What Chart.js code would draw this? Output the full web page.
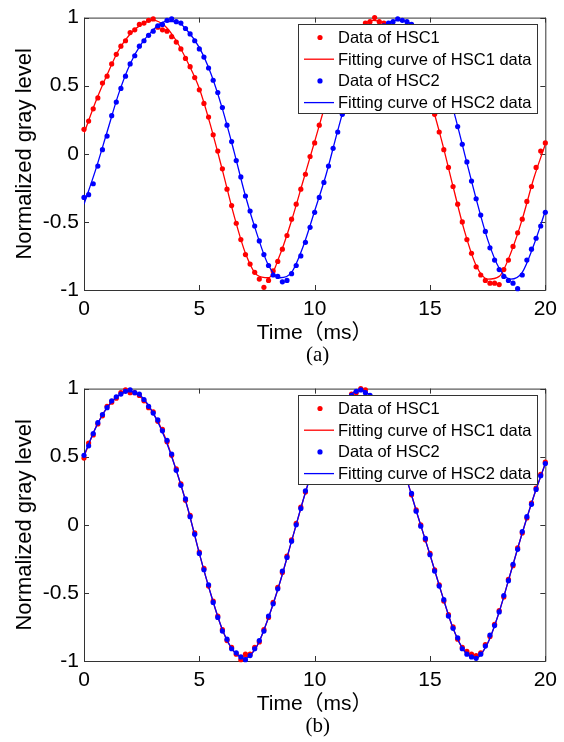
<!DOCTYPE html>
<html>
<head>
<meta charset="utf-8">
<script src="https://cdn.jsdelivr.net/npm/chart.js@4.4.1/dist/chart.umd.min.js"></script>
<style>
  html, body { margin: 0; padding: 0; background: #fff; }
  .panel { position: absolute; left: 0; width: 564px; height: 371px; }
</style>
</head>
<body>
<div class="panel" style="top:0"><canvas id="chartA" width="564" height="371"></canvas></div>
<div class="panel" style="top:371px"><canvas id="chartB" width="564" height="371"></canvas></div>
<script>
// --- time grids (ms) ---
const sampleTime = [
  0, 0.2, 0.4, 0.6, 0.8, 1, 1.2, 1.4, 1.6, 1.8,
  2, 2.2, 2.4, 2.6, 2.8, 3, 3.2, 3.4, 3.6, 3.8,
  4, 4.2, 4.4, 4.6, 4.8, 5, 5.2, 5.4, 5.6, 5.8,
  6, 6.2, 6.4, 6.6, 6.8, 7, 7.2, 7.4, 7.6, 7.8,
  8, 8.2, 8.4, 8.6, 8.8, 9, 9.2, 9.4, 9.6, 9.8,
  10, 10.2, 10.4, 10.6, 10.8, 11, 11.2, 11.4, 11.6, 11.8,
  12, 12.2, 12.4, 12.6, 12.8, 13, 13.2, 13.4, 13.6, 13.8,
  14, 14.2, 14.4, 14.6, 14.8, 15, 15.2, 15.4, 15.6, 15.8,
  16, 16.2, 16.4, 16.6, 16.8, 17, 17.2, 17.4, 17.6, 17.8,
  18, 18.2, 18.4, 18.6, 18.8, 19, 19.2, 19.4, 19.6, 19.8,
  20
];
const fitTime = [
  0, 0.5, 1, 1.5, 2, 2.5, 3, 3.5, 4, 4.5,
  5, 5.5, 6, 6.5, 7, 7.5, 8, 8.5, 9, 9.5,
  10, 10.5, 11, 11.5, 12, 12.5, 13, 13.5, 14, 14.5,
  15, 15.5, 16, 16.5, 17, 17.5, 18, 18.5, 19, 19.5,
  20
];

// --- panel (a) ---
const aHsc1Data = [
  0.18, 0.24, 0.33, 0.41, 0.52, 0.57, 0.66, 0.73, 0.79, 0.83,
  0.89, 0.91, 0.95, 0.96, 0.98, 0.99, 0.93, 0.91, 0.90, 0.86,
  0.82, 0.77, 0.70, 0.64, 0.56, 0.47, 0.37, 0.27, 0.14, 0.02,
  -0.11, -0.26, -0.38, -0.51, -0.63, -0.74, -0.81, -0.87, -0.92, -0.98,
  -0.93, -0.86, -0.79, -0.70, -0.60, -0.48, -0.37, -0.26, -0.15, -0.02,
  0.08, 0.21, 0.32, 0.43, 0.53, 0.62, 0.70, 0.78, 0.84, 0.89,
  0.93, 0.96, 0.97, 1.00, 0.97, 0.96, 0.93, 0.90, 0.86, 0.81,
  0.76, 0.69, 0.62, 0.56, 0.48, 0.40, 0.29, 0.16, 0.03, -0.10,
  -0.24, -0.37, -0.50, -0.63, -0.73, -0.83, -0.89, -0.93, -0.95, -0.95,
  -0.96, -0.85, -0.78, -0.68, -0.58, -0.48, -0.35, -0.24, -0.10, 0.02,
  0.08
];
const aHsc1Fit = [
  0.15, 0.38, 0.58, 0.76, 0.88, 0.95, 0.98, 0.94, 0.83, 0.67,
  0.48, 0.20, -0.12, -0.45, -0.73, -0.89, -0.91, -0.74, -0.49, -0.20,
  0.09, 0.38, 0.62, 0.81, 0.93, 0.98, 0.96, 0.88, 0.75, 0.59,
  0.40, 0.10, -0.24, -0.57, -0.82, -0.92, -0.90, -0.73, -0.48, -0.18,
  0.07
];
const aHsc2Data = [
  -0.32, -0.30, -0.22, -0.09, 0.03, 0.13, 0.28, 0.38, 0.48, 0.57,
  0.66, 0.72, 0.79, 0.83, 0.87, 0.90, 0.94, 0.95, 0.98, 0.99,
  0.97, 0.96, 0.92, 0.88, 0.83, 0.77, 0.71, 0.63, 0.54, 0.45,
  0.34, 0.21, 0.09, -0.05, -0.17, -0.31, -0.42, -0.53, -0.64, -0.74,
  -0.82, -0.89, -0.90, -0.94, -0.93, -0.88, -0.82, -0.75, -0.65, -0.54,
  -0.43, -0.32, -0.21, -0.09, 0.04, 0.16, 0.29, 0.42, 0.52, 0.61,
  0.69, 0.76, 0.82, 0.87, 0.91, 0.94, 0.96, 0.97, 0.99, 0.98,
  0.97, 0.95, 0.91, 0.88, 0.83, 0.78, 0.71, 0.63, 0.54, 0.44,
  0.33, 0.20, 0.07, -0.06, -0.20, -0.33, -0.45, -0.57, -0.69, -0.78,
  -0.85, -0.90, -0.93, -0.95, -0.99, -0.89, -0.78, -0.70, -0.62, -0.53,
  -0.43
];
const aHsc2Fit = [
  -0.37, -0.12, 0.16, 0.44, 0.66, 0.81, 0.91, 0.97, 0.97, 0.90,
  0.78, 0.59, 0.33, 0.02, -0.31, -0.59, -0.82, -0.91, -0.87, -0.68,
  -0.42, -0.15, 0.17, 0.47, 0.70, 0.85, 0.94, 0.98, 0.97, 0.90,
  0.78, 0.59, 0.33, 0.00, -0.33, -0.63, -0.84, -0.92, -0.87, -0.67,
  -0.42
];

// --- panel (b) ---
const bHsc1Data = [
  0.49, 0.60, 0.66, 0.74, 0.80, 0.87, 0.90, 0.93, 0.97, 0.99,
  0.97, 0.97, 0.95, 0.91, 0.86, 0.83, 0.76, 0.70, 0.61, 0.51,
  0.41, 0.30, 0.18, 0.07, -0.06, -0.20, -0.32, -0.45, -0.56, -0.67,
  -0.77, -0.85, -0.90, -0.95, -0.99, -0.95, -0.95, -0.90, -0.86, -0.77,
  -0.68, -0.57, -0.46, -0.35, -0.23, -0.11, 0.01, 0.13, 0.24, 0.36,
  0.46, 0.55, 0.64, 0.72, 0.79, 0.85, 0.89, 0.93, 0.96, 0.97,
  1.00, 0.99, 0.94, 0.91, 0.85, 0.79, 0.72, 0.64, 0.54, 0.44,
  0.34, 0.22, 0.11, 0.00, -0.11, -0.21, -0.33, -0.44, -0.56, -0.66,
  -0.75, -0.84, -0.90, -0.93, -0.95, -0.96, -0.94, -0.88, -0.82, -0.73,
  -0.63, -0.53, -0.40, -0.30, -0.17, -0.06, 0.05, 0.16, 0.27, 0.37,
  0.46
];
const bHsc1Fit = [
  0.50, 0.71, 0.86, 0.95, 0.98, 0.93, 0.82, 0.65, 0.40, 0.12,
  -0.21, -0.51, -0.77, -0.93, -0.97, -0.89, -0.68, -0.42, -0.12, 0.18,
  0.46, 0.68, 0.85, 0.95, 0.99, 0.93, 0.79, 0.59, 0.33, 0.05,
  -0.22, -0.50, -0.76, -0.93, -0.97, -0.87, -0.64, -0.35, -0.06, 0.21,
  0.45
];
const bHsc2Data = [
  0.51, 0.58, 0.67, 0.75, 0.81, 0.86, 0.91, 0.94, 0.96, 0.98,
  0.99, 0.97, 0.96, 0.92, 0.87, 0.82, 0.77, 0.69, 0.62, 0.52,
  0.40, 0.29, 0.19, 0.06, -0.07, -0.21, -0.33, -0.44, -0.57, -0.68,
  -0.78, -0.84, -0.91, -0.94, -0.97, -0.99, -0.96, -0.91, -0.85, -0.78,
  -0.67, -0.58, -0.47, -0.34, -0.24, -0.12, 0.00, 0.12, 0.25, 0.35,
  0.45, 0.56, 0.63, 0.73, 0.79, 0.84, 0.90, 0.92, 0.95, 0.98,
  0.99, 0.97, 0.95, 0.90, 0.86, 0.78, 0.71, 0.63, 0.55, 0.43,
  0.33, 0.23, 0.10, -0.01, -0.10, -0.22, -0.34, -0.45, -0.55, -0.67,
  -0.76, -0.83, -0.91, -0.95, -0.97, -0.98, -0.95, -0.89, -0.81, -0.74,
  -0.64, -0.52, -0.41, -0.29, -0.18, -0.05, 0.06, 0.15, 0.26, 0.36,
  0.45
];
const bHsc2Fit = [
  0.51, 0.71, 0.86, 0.95, 0.98, 0.94, 0.82, 0.64, 0.40, 0.12,
  -0.21, -0.51, -0.77, -0.93, -0.98, -0.89, -0.68, -0.42, -0.12, 0.18,
  0.45, 0.68, 0.85, 0.95, 0.99, 0.93, 0.79, 0.59, 0.33, 0.05,
  -0.22, -0.50, -0.76, -0.93, -0.98, -0.87, -0.64, -0.35, -0.06, 0.21,
  0.45
];

const xTicks = [0, 5, 10, 15, 20];
const yTicks = [-1, -0.5, 0, 0.5, 1];
const legendLabels = ['Data of HSC1', 'Fitting curve of HSC1 data', 'Data of HSC2', 'Fitting curve of HSC2 data'];

const RED = '#ff0000';
const BLUE = '#0000ff';
const AXIS = '#333333';
const SANS = "'Liberation Sans', Arial, sans-serif";

function toPoints(xs, ys) {
    return ys.map((v, i) => ({ x: xs[i], y: v }));
}

// kotak sumbu + tick ke dalam (gaya MATLAB)
const frameBox = {
    id: 'frameBox',
    beforeDatasetsDraw(chart) {
        const { ctx, chartArea: a, scales: { x, y } } = chart;
        const tl = 5;
        ctx.save();
        ctx.strokeStyle = AXIS;
        ctx.lineWidth = 1;
        ctx.beginPath();
        ctx.rect(a.left + 0.5, a.top + 0.5, a.right - a.left, a.bottom - a.top);
        xTicks.forEach(v => {
            const px = Math.round(x.getPixelForValue(v)) + 0.5;
            ctx.moveTo(px, a.bottom); ctx.lineTo(px, a.bottom - tl);
            ctx.moveTo(px, a.top); ctx.lineTo(px, a.top + tl);
        });
        yTicks.forEach(v => {
            const py = Math.round(y.getPixelForValue(v)) + 0.5;
            ctx.moveTo(a.left, py); ctx.lineTo(a.left + tl, py);
            ctx.moveTo(a.right, py); ctx.lineTo(a.right - tl, py);
        });
        ctx.stroke();
        ctx.restore();
    }
};

// legenda di dalam area plot, kanan atas
const insideLegend = {
    id: 'insideLegend',
    afterDatasetsDraw(chart) {
        const { ctx, chartArea: a } = chart;
        const w = 239, h = 89;
        const left = Math.round(a.right - 247), top = Math.round(a.top + 6);
        ctx.save();
        ctx.fillStyle = '#fff';
        ctx.fillRect(left, top, w, h);
        ctx.strokeStyle = AXIS;
        ctx.lineWidth = 1;
        ctx.strokeRect(left + 0.5, top + 0.5, w, h);
        ctx.font = '16.5px ' + SANS;
        ctx.textBaseline = 'middle';
        ctx.textAlign = 'left';
        chart.data.datasets.forEach((ds, i) => {
            const cy = top + 13.5 + i * 21.7;
            if (ds.showLine) {
                ctx.strokeStyle = ds.borderColor;
                ctx.lineWidth = 1.3;
                ctx.beginPath();
                ctx.moveTo(left + 6, cy);
                ctx.lineTo(left + 36, cy);
                ctx.stroke();
            } else {
                ctx.fillStyle = ds.backgroundColor;
                ctx.beginPath();
                ctx.arc(left + 22, cy, 2.6, 0, Math.PI * 2);
                ctx.fill();
            }
            ctx.fillStyle = '#000';
            ctx.fillText(ds.label, left + 40, cy + 1);
        });
        ctx.restore();
    }
};

// label panel (a)/(b) di bawah judul sumbu x
const panelLabel = {
    id: 'panelLabel',
    afterDraw(chart, args, opts) {
        const { ctx, chartArea: a } = chart;
        ctx.save();
        ctx.font = "21px 'Liberation Serif', 'Times New Roman', serif";
        ctx.fillStyle = '#000';
        ctx.textAlign = 'center';
        ctx.textBaseline = 'middle';
        ctx.fillText(opts.text, (a.left + a.right) / 2 + 3, 355);
        ctx.restore();
    }
};

function makeChart(canvasId, label, hsc1Data, hsc1Fit, hsc2Data, hsc2Fit) {
    const ctx = document.getElementById(canvasId).getContext('2d');
    return new Chart(ctx, {
        type: 'scatter',
        data: {
            datasets: [{
                label: legendLabels[0],
                data: toPoints(sampleTime, hsc1Data),
                showLine: false,
                backgroundColor: RED,
                borderColor: RED,
                pointRadius: 2.6,
                pointBorderWidth: 0,
                clip: false,
                order: 4
            }, {
                label: legendLabels[1],
                data: toPoints(fitTime, hsc1Fit),
                showLine: true,
                borderColor: RED,
                backgroundColor: RED,
                borderWidth: 1.3,
                pointRadius: 0,
                cubicInterpolationMode: 'monotone',
                order: 3
            }, {
                label: legendLabels[2],
                data: toPoints(sampleTime, hsc2Data),
                showLine: false,
                backgroundColor: BLUE,
                borderColor: BLUE,
                pointRadius: 2.6,
                pointBorderWidth: 0,
                clip: false,
                order: 2
            }, {
                label: legendLabels[3],
                data: toPoints(fitTime, hsc2Fit),
                showLine: true,
                borderColor: BLUE,
                backgroundColor: BLUE,
                borderWidth: 1.3,
                pointRadius: 0,
                cubicInterpolationMode: 'monotone',
                order: 1
            }]
        },
        options: {
            responsive: false,
            animation: false,
            events: [],
            layout: { padding: { top: 17, right: 18, bottom: 0, left: 0 } },
            plugins: {
                legend: { display: false },
                tooltip: { enabled: false },
                panelLabel: { text: label }
            },
            scales: {
                x: {
                    type: 'linear',
                    min: 0,
                    max: 20,
                    afterBuildTicks: s => { s.ticks = xTicks.map(v => ({ value: v })); },
                    afterFit: s => { s.height = 81; },
                    grid: { display: false, drawTicks: false },
                    border: { display: false },
                    ticks: {
                        color: '#000',
                        font: { family: SANS, size: 21 },
                        padding: 7,
                        maxRotation: 0,
                        autoSkip: false,
                        callback: v => String(v)
                    },
                    title: {
                        display: true,
                        text: 'Time（ms）',
                        color: '#000',
                        font: { family: "'Liberation Sans', 'Noto Sans CJK SC', sans-serif", size: 21 },
                        padding: { top: 0, bottom: 25 }
                    }
                },
                y: {
                    type: 'linear',
                    min: -1,
                    max: 1,
                    afterBuildTicks: s => { s.ticks = yTicks.map(v => ({ value: v })); },
                    afterFit: s => { s.width = 84; },
                    grid: { display: false, drawTicks: false },
                    border: { display: false },
                    ticks: {
                        color: '#000',
                        font: { family: SANS, size: 21 },
                        padding: 5,
                        callback: v => String(v)
                    },
                    title: {
                        display: true,
                        text: 'Normalized gray level',
                        color: '#000',
                        font: { family: SANS, size: 22 },
                        padding: { top: 12, bottom: 0 }
                    }
                }
            }
        },
        plugins: [frameBox, insideLegend, panelLabel]
    });
}

makeChart('chartA', '(a)', aHsc1Data, aHsc1Fit, aHsc2Data, aHsc2Fit);
makeChart('chartB', '(b)', bHsc1Data, bHsc1Fit, bHsc2Data, bHsc2Fit);
</script>
</body>
</html>
